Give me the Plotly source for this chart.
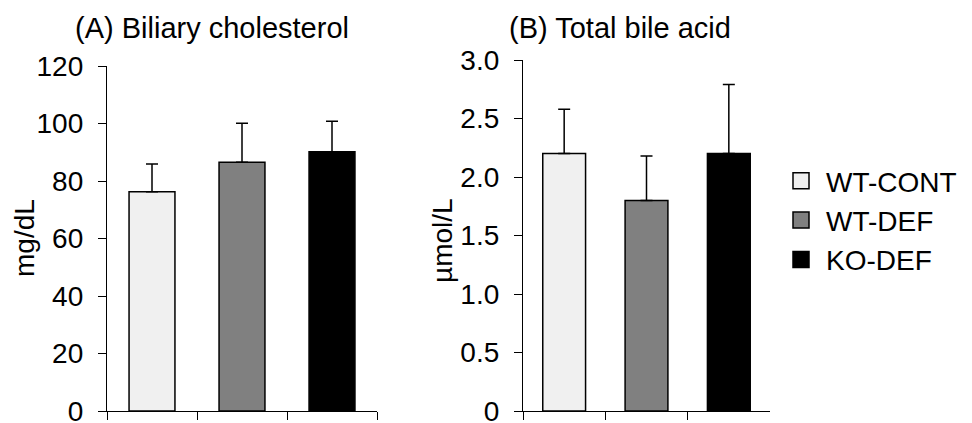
import plotly.graph_objects as go

groups = ["WT-CONT", "WT-DEF", "KO-DEF"]
colors = ["#f0f0f0", "#808080", "#000000"]

chol_mean = [76.3, 86.5, 90.2]
chol_sd = [9.6, 13.6, 10.6]

bile_mean = [2.20, 1.80, 2.20]
bile_sd = [0.38, 0.38, 0.59]

chol_ticks = [0, 20, 40, 60, 80, 100, 120]
bile_ticks = [0, 0.5, 1.0, 1.5, 2.0, 2.5, 3.0]
bile_ticktext = ["0", "0.5", "1.0", "1.5", "2.0", "2.5", "3.0"]

FONT = "Arial, Liberation Sans, sans-serif"
fig = go.Figure()

for i, g in enumerate(groups):
    fig.add_trace(go.Bar(
        x=[g], y=[chol_mean[i]], name=g, showlegend=False,
        marker=dict(color=colors[i], line=dict(color="black", width=1.5)),
        width=0.51,
        error_y=dict(type="data", symmetric=False, array=[chol_sd[i]], arrayminus=[0],
                     color="black", thickness=1.5, width=6),
        xaxis="x", yaxis="y",
    ))
    fig.add_trace(go.Bar(
        x=[g], y=[bile_mean[i]], name=g, showlegend=False,
        marker=dict(color=colors[i], line=dict(color="black", width=1.5)),
        width=0.52,
        error_y=dict(type="data", symmetric=False, array=[bile_sd[i]], arrayminus=[0],
                     color="black", thickness=1.5, width=6),
        xaxis="x2", yaxis="y2",
    ))

# legend entries
for i, g in enumerate(groups):
    fig.add_trace(go.Scatter(
        x=[None], y=[None], mode="markers", name=g,
        marker=dict(symbol="square", size=16, color=colors[i], line=dict(color="black", width=1.5)),
        xaxis="x2", yaxis="y2",
    ))

W, H = 972, 423
def px(x):
    return x / W
def py(y):
    return 1 - y / H

xcommon = dict(showticklabels=False, ticks="outside", ticklen=8, tickwidth=1.3, tickcolor="black",
               showline=True, linecolor="black", linewidth=1.3, tickson="boundaries",
               showgrid=False, zeroline=False, fixedrange=True, automargin=False)
ycommon = dict(ticks="outside", ticklen=8, tickwidth=1.3, tickcolor="black",
               showline=True, linecolor="black", linewidth=1.3, showgrid=False, zeroline=False,
               tickfont=dict(family=FONT, size=28, color="black"), ticklabelstandoff=9,
               ticklabeloverflow="allow", automargin=False)

fig.update_layout(
    width=W, height=H,
    margin=dict(l=0, r=0, t=0, b=0, autoexpand=False),
    paper_bgcolor="white", plot_bgcolor="white",
    barmode="overlay",
    font=dict(family=FONT, size=28, color="black"),
    xaxis=dict(domain=[px(107), px(377)], anchor="y", **xcommon),
    yaxis=dict(domain=[py(411), py(66)], anchor="x", range=[0, 120], tickvals=chol_ticks, **ycommon),
    xaxis2=dict(domain=[px(523), px(770)], anchor="y2", **xcommon),
    yaxis2=dict(domain=[py(411), py(60)], anchor="x2", range=[0, 3.0], tickvals=bile_ticks,
                ticktext=bile_ticktext, **ycommon),
    legend=dict(x=px(776), y=py(156), xanchor="left", yanchor="top",
                font=dict(family=FONT, size=28, color="black"), itemwidth=40,
                traceorder="normal", bgcolor="rgba(0,0,0,0)"),
    annotations=[
        dict(text="(A) Biliary cholesterol", x=px(212), y=py(28), xref="paper", yref="paper",
             xanchor="center", yanchor="middle", showarrow=False, font=dict(size=29)),
        dict(text="(B) Total bile acid", x=px(620), y=py(28), xref="paper", yref="paper",
             xanchor="center", yanchor="middle", showarrow=False, font=dict(size=29)),
        dict(text="mg/dL", x=px(24), y=py(238), xref="paper", yref="paper", textangle=-90,
             xanchor="center", yanchor="middle", showarrow=False, font=dict(size=28)),
        dict(text="µmol/L", x=px(442), y=py(241), xref="paper", yref="paper", textangle=-90,
             xanchor="center", yanchor="middle", showarrow=False, font=dict(size=28)),
    ],
)

fig.write_html("out.html")
